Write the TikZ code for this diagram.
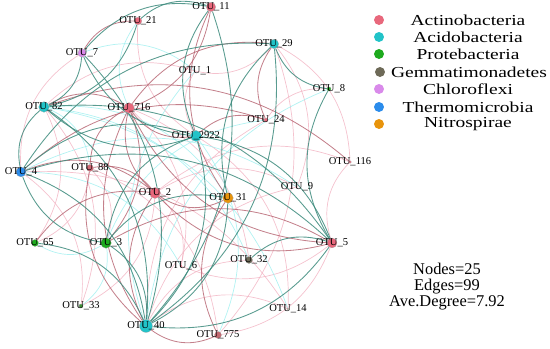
\documentclass[tikz,border=0pt]{standalone}
\usepackage{fontspec}
\setmainfont{Liberation Serif}
\usepackage{xcolor}
\usetikzlibrary{positioning,backgrounds}
\definecolor{act}{HTML}{E8687C}
\definecolor{aci}{HTML}{22C3C8}
\definecolor{pro}{HTML}{1EAA1E}
\definecolor{gem}{HTML}{6E6A58}
\definecolor{chl}{HTML}{D98AEA}
\definecolor{thm}{HTML}{2B8CEB}
\definecolor{nit}{HTML}{E8940C}
\definecolor{edgeteal}{HTML}{3C8A7C}
\definecolor{edgered}{HTML}{B5606E}
\definecolor{edgepink}{HTML}{F2B3C2}
\definecolor{edgecyan}{HTML}{9EEFEF}

\begin{document}
\begin{tikzpicture}[x=0.03cm, y=-0.03cm,
  otu/.style={circle, draw=black!35, line width=0.2pt, inner sep=0pt},
  lbl/.style={font=\fontsize{9}{9}\selectfont, inner sep=0pt},
  tl/.style={draw=edgeteal, line width=0.75pt, opacity=0.85},
  rd/.style={draw=edgered, line width=0.7pt, opacity=0.8},
  lp/.style={draw=edgepink, line width=0.6pt, opacity=0.8},
  lc/.style={draw=edgecyan, line width=0.6pt, opacity=0.8},
  legdot/.style={circle, inner sep=0pt, minimum size=8.5pt},
  legtext/.style={font=\fontsize{13}{13}\selectfont, xscale=1.28, transform shape, inner sep=0pt}]
\useasboundingbox (0,0) rectangle (550,349);

\node[otu, fill=act, minimum size=8pt, label={[lbl]center:OTU\_11}] (n11) at (211,7) {};
\node[otu, fill=act, minimum size=6.5pt, label={[lbl]center:OTU\_21}] (n21) at (138,21) {};
\node[otu, fill=chl, minimum size=7pt, label={[lbl]center:OTU\_7}] (n7) at (82,53) {};
\node[otu, fill=aci, minimum size=9pt, label={[lbl]center:OTU\_82}] (n82) at (44,107) {};
\node[otu, fill=act, minimum size=9pt, label={[lbl]center:OTU\_716}] (n716) at (129,108) {};
\node[otu, fill=aci, minimum size=8pt, label={[lbl]center:OTU\_29}] (n29) at (274,44) {};
\node[otu, fill=act, minimum size=1pt, draw=none, label={[lbl]center:OTU\_1}] (n1) at (195,71) {};
\node[otu, fill=pro, minimum size=3.5pt, label={[lbl]center:OTU\_8}] (n8) at (329,89) {};
\node[otu, fill=act, minimum size=3.5pt, label={[lbl]center:OTU\_24}] (n24) at (266,120) {};
\node[otu, fill=aci, minimum size=9.5pt, label={[lbl]center:OTU\_2922}] (n2922) at (196,136) {};
\node[otu, fill=act, minimum size=2.5pt, label={[lbl]center:OTU\_116}] (n116) at (350,162) {};
\node[otu, fill=act, minimum size=1pt, draw=none, label={[lbl]center:OTU\_9}] (n9) at (297,187) {};
\node[otu, fill=nit, minimum size=9pt, label={[lbl]center:OTU\_31}] (n31) at (228,198) {};
\node[otu, fill=thm, minimum size=8.5pt, label={[lbl]center:OTU\_4}] (n4) at (21,172) {};
\node[otu, fill=act!80!gem, minimum size=6pt, label={[lbl]center:OTU\_88}] (n88) at (90,168) {};
\node[otu, fill=act, minimum size=9.5pt, label={[lbl]center:OTU\_2}] (n2) at (155,193) {};
\node[otu, fill=pro, minimum size=6pt, label={[lbl]center:OTU\_65}] (n65) at (35,243) {};
\node[otu, fill=pro, minimum size=9pt, label={[lbl]center:OTU\_3}] (n3) at (106,243) {};
\node[otu, fill=act, minimum size=2pt, draw=none, label={[lbl]center:OTU\_6}] (n6) at (181,266) {};
\node[otu, fill=pro!60!gem, minimum size=3.5pt, label={[lbl]center:OTU\_33}] (n33) at (81,306) {};
\node[otu, fill=aci, minimum size=11pt, label={[lbl]center:OTU\_40}] (n40) at (146,326) {};
\node[otu, fill=gem, minimum size=6pt, label={[lbl]center:OTU\_32}] (n32) at (249,260) {};
\node[otu, fill=act, minimum size=8.5pt, label={[lbl]center:OTU\_5}] (n5) at (332,243) {};
\node[otu, fill=gem, minimum size=1.5pt, draw=none, label={[lbl]center:OTU\_14}] (n14) at (288,309) {};
\node[otu, fill=act!70!gem, minimum size=6pt, label={[lbl]center:OTU\_775}] (n775) at (218,335) {};

\begin{scope}[on background layer]
\foreach \a/\b in {116/2, 116/29, 116/5, 9/2, 9/29, 9/40, 6/2, 6/716, 6/5, 14/40, 14/4, 14/2922, 33/4, 33/82, 33/2, 775/5, 775/29, 775/88, 1/82, 1/29, 1/2922, 8/24, 32/716, 32/40, 65/82, 65/88, 24/40, 21/2922, 7/4, 3/88}
  \draw[lp] (n\a) to[bend right=30] (n\b);
\foreach \a/\b in {1/7, 1/40, 9/4, 14/82, 33/3, 32/82, 775/2922, 6/4, 65/3, 31/82, 88/82, 21/716, 8/40, 24/3}
  \draw[lc] (n\a) to[bend right=30] (n\b);
\foreach \a/\b in {716/82, 716/2, 716/88, 716/2922, 716/40, 716/5, 716/11, 2/4, 2/88, 2/65, 2/40, 2/31, 2/5, 29/716, 29/24, 24/2922, 24/4, 116/82, 31/775, 40/775, 88/40, 3/716, 21/7, 11/31, 5/3}
  \draw[rd] (n\a) to[bend right=30] (n\b);
\foreach \a/\b in {40/82, 40/4, 40/7, 40/11, 40/2922, 40/29, 40/3, 40/5, 40/31, 40/65, 82/7, 82/21, 82/2922, 82/4, 11/21, 11/7, 11/2922, 29/4, 29/31, 29/8, 2922/3, 2922/4, 5/2922, 5/82, 5/4, 5/32, 4/3, 31/3, 7/2922, 8/5}
  \draw[tl] (n\a) to[bend right=30] (n\b);
\end{scope}

\node[legdot, fill=act] (dot1) at (379,20) {};
\node[legdot, fill=aci] (dot2) at (379,37) {};
\node[legdot, fill=pro] (dot3) at (379,54) {};
\node[legdot, fill=gem] (dot4) at (380,72) {};
\node[legdot, fill=chl] (dot5) at (379,89) {};
\node[legdot, fill=thm] (dot6) at (379,107) {};
\node[legdot, fill=nit] (dot7) at (379,124) {};
\node[legtext] (leg1) at (468,20) {Actinobacteria};
\node[legtext] (leg2) at (468,37) {Acidobacteria};
\node[legtext] (leg3) at (468,54) {Protebacteria};
\node[legtext] (leg4) at (469,72) {Gemmatimonadetes};
\node[legtext] (leg5) at (468,89) {Chloroflexi};
\node[legtext] (leg6) at (468,107) {Thermomicrobia};
\node[legtext] (leg7) at (468,124) {Nitrospirae};

\node[font=\fontsize{14}{13.6}\selectfont, align=center, inner sep=0pt] (stats) at (447,287) {Nodes=25\\Edges=99\\Ave.Degree=7.92};
\end{tikzpicture}
\end{document}
